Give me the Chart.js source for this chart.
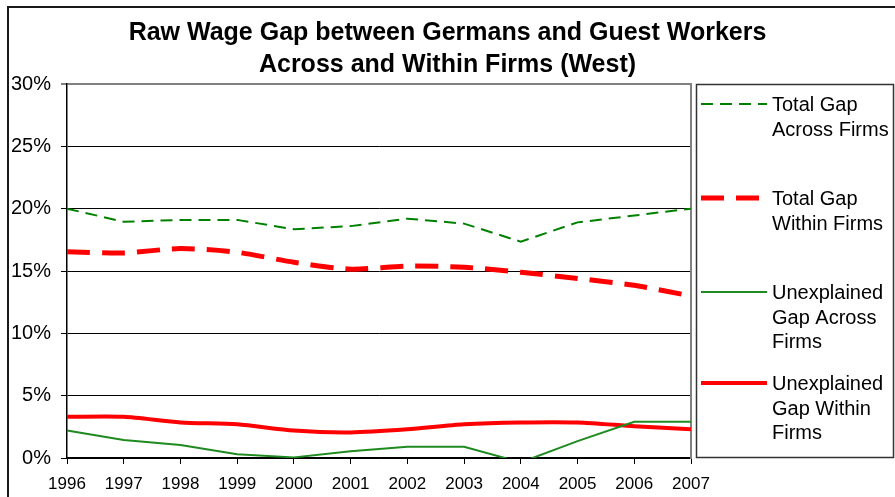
<!DOCTYPE html>
<html>
<head>
<meta charset="utf-8">
<script src="https://cdn.jsdelivr.net/npm/chart.js@4.4.1/dist/chart.umd.min.js"></script>
<style>
  html, body { margin: 0; padding: 0; background: #fff; }
  #wrap { position: relative; width: 895px; height: 497px; overflow: hidden; }
</style>
</head>
<body>
<div id="wrap"><canvas id="gap-chart"></canvas></div>
<script>
// values are in percent
const years = ['1996', '1997', '1998', '1999', '2000', '2001', '2002', '2003', '2004', '2005', '2006', '2007'];
const totalAcross = [20.0, 18.95, 19.1, 19.1, 18.35, 18.6, 19.2, 18.8, 17.35, 18.9, 19.45, 20.0];
const totalWithin = [16.55, 16.45, 16.8, 16.5, 15.7, 15.15, 15.4, 15.3, 14.9, 14.4, 13.85, 13.0];
const unexplAcross = [2.2, 1.45, 1.05, 0.3, 0.05, 0.55, 0.9, 0.9, -0.35, 1.35, 2.9, 2.9];
const unexplWithin = [3.3, 3.3, 2.85, 2.7, 2.2, 2.05, 2.3, 2.7, 2.85, 2.85, 2.55, 2.3];
const seriesNames = [
  ['Total Gap', 'Across Firms'],
  ['Total Gap', 'Within Firms'],
  ['Unexplained', 'Gap Across', 'Firms'],
  ['Unexplained', 'Gap Within', 'Firms']
];
const yTicks = [0, 5, 10, 15, 20, 25, 30];

Chart.defaults.font.family = '"Liberation Sans", Arial, sans-serif';
Chart.defaults.color = '#000';

// outer frame of the chart object
const framePlugin = {
  id: 'frame',
  beforeDraw(chart) {
    const ctx = chart.ctx;
    ctx.save();
    ctx.strokeStyle = '#1a1a1a';
    ctx.lineWidth = 2;
    ctx.strokeRect(8, 7, 1000, 1000);
    ctx.restore();
  }
};

// boxed legend to the right, one entry per dataset
const boxLegend = {
  id: 'boxLegend',
  afterDraw(chart) {
    const ctx = chart.ctx;
    const entryY = [104, 198, 292, 383];
    ctx.save();
    ctx.fillStyle = '#fff';
    ctx.fillRect(696, 84, 198, 374);
    ctx.strokeStyle = '#333';
    ctx.lineWidth = 1.5;
    ctx.strokeRect(696.5, 84.5, 197, 373);
    chart.data.datasets.forEach((ds, i) => {
      const y = entryY[i];
      ctx.strokeStyle = ds.borderColor;
      ctx.lineWidth = ds.borderWidth;
      ctx.setLineDash(ds.borderDash || []);
      ctx.beginPath();
      ctx.moveTo(701, y);
      ctx.lineTo(767, y);
      ctx.stroke();
      ctx.setLineDash([]);
      ctx.fillStyle = '#000';
      ctx.font = '20px "Liberation Sans", Arial, sans-serif';
      ctx.textBaseline = 'alphabetic';
      seriesNames[i].forEach((line, j) => {
        ctx.fillText(line, 772, y + 7 + j * 24.5);
      });
    });
    ctx.restore();
  }
};

new Chart(document.getElementById('gap-chart'), {
  type: 'line',
  data: {
    labels: years,
    datasets: [
      {
        label: seriesNames[0].join(' '),
        data: totalAcross,
        borderColor: '#008000',
        borderWidth: 2,
        borderDash: [12, 7],
        tension: 0
      },
      {
        label: seriesNames[1].join(' '),
        data: totalWithin,
        borderColor: '#ff0000',
        borderWidth: 5,
        borderDash: [23, 12],
        tension: 0.25
      },
      {
        label: seriesNames[2].join(' '),
        data: unexplAcross,
        borderColor: '#1f8a1f',
        borderWidth: 2,
        tension: 0
      },
      {
        label: seriesNames[3].join(' '),
        data: unexplWithin,
        borderColor: '#ff0000',
        borderWidth: 4,
        tension: 0.25
      }
    ]
  },
  options: {
    responsive: true,
    maintainAspectRatio: false,
    animation: false,
    layout: { padding: { left: 0, right: 0, top: 0, bottom: 0 } },
    elements: { point: { radius: 0, hoverRadius: 0 } },
    plugins: {
      legend: { display: false },
      tooltip: { enabled: false },
      title: {
        display: true,
        text: ['Raw Wage Gap between Germans and Guest Workers', 'Across and Within Firms (West)'],
        font: { size: 25, weight: 'bold', lineHeight: 1.28 },
        padding: { top: 17, bottom: 3 },
        color: '#000'
      }
    },
    scales: {
      x: {
        grid: { display: true, drawOnChartArea: false, drawTicks: true, tickLength: 6, color: '#000' },
        border: { display: true, color: '#000', width: 1.5 },
        ticks: { font: { size: 17 }, maxRotation: 0, autoSkip: false, padding: 10 },
        afterFit: s => { s.height = 39; }
      },
      y: {
        min: 0,
        max: 30,
        afterBuildTicks: s => { s.ticks = yTicks.map(v => ({ value: v })); },
        grid: {
          color: c => (c.tick && c.tick.value === 30 ? '#808080' : '#000'),
          lineWidth: c => (c.tick && c.tick.value === 30 ? 2 : 1),
          tickLength: 6
        },
        border: { display: true, color: '#000', width: 1.5 },
        ticks: { font: { size: 20 }, padding: 10, callback: v => v + '%' },
        afterFit: s => { s.width = 67; }
      },
      side: {
        type: 'linear',
        position: 'right',
        grid: { display: false },
        ticks: { display: false },
        border: { display: true, color: '#808080', width: 2 },
        afterFit: s => { s.width = 204; }
      }
    }
  },
  plugins: [framePlugin, boxLegend]
});
</script>
</body>
</html>
